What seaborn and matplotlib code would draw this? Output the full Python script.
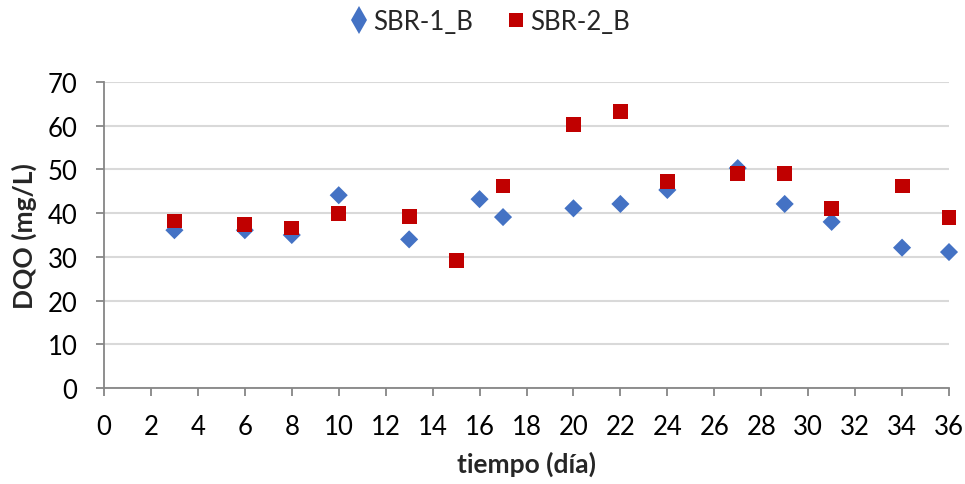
import matplotlib
matplotlib.use("Agg")
import matplotlib.pyplot as plt
from matplotlib.lines import Line2D
import seaborn as sns
import pandas as pd

dias_1 = [3, 6, 8, 10, 13, 16, 17, 20, 22, 24, 27, 29, 31, 34, 36]
sbr1 = [36.1, 36.1, 35.0, 44.1, 34.0, 43.2, 39.1, 41.1, 42.1, 45.3, 50.3, 42.1, 38.0, 32.1, 31.1]
dias_2 = [3, 6, 8, 10, 13, 15, 17, 20, 22, 24, 27, 29, 31, 34, 36]
sbr2 = [38.2, 37.5, 36.6, 39.9, 39.2, 29.1, 46.2, 60.2, 63.2, 47.2, 49.1, 49.1, 41.1, 46.2, 39.1]
series = ["SBR-1_B", "SBR-2_B"]
xticks = list(range(0, 37, 2))
yticks = list(range(0, 71, 10))
colors = ["#4472C4", "#C00000"]

sns.set_theme(style="white")
plt.rcParams["font.family"] = ["Lato", "DejaVu Sans"]

df1 = pd.DataFrame({"tiempo": dias_1, "DQO": sbr1, "serie": series[0]})
df2 = pd.DataFrame({"tiempo": dias_2, "DQO": sbr2, "serie": series[1]})

fig = plt.figure(figsize=(9.65, 4.85), dpi=100)
ax = fig.add_axes([104 / 965, 1 - 389 / 485, (949 - 104) / 965, (389 - 83) / 485])

sns.scatterplot(data=df1, x="tiempo", y="DQO", marker="D", s=85, color=colors[0],
                edgecolor="none", ax=ax, clip_on=False, zorder=3, legend=False)
sns.scatterplot(data=df2, x="tiempo", y="DQO", marker="s", s=115, color=colors[1],
                edgecolor="none", ax=ax, clip_on=False, zorder=4, legend=False)

ax.set_xlim(0, 36)
ax.set_ylim(0, 70)
ax.set_xticks(xticks)
ax.set_yticks(yticks)
ax.grid(axis="y", color="#D9D9D9", linewidth=1.5)
ax.set_axisbelow(True)
for s in ["top", "right"]:
    ax.spines[s].set_visible(False)
for s in ["left", "bottom"]:
    ax.spines[s].set_color("#868686")
    ax.spines[s].set_linewidth(1.3)
ax.tick_params(axis="both", which="major", direction="out", length=6, width=1.3,
               color="#868686", labelsize=18.5, labelcolor="black",
               bottom=True, left=True)
ax.tick_params(axis="y", pad=13)
ax.tick_params(axis="x", pad=13)
ax.set_xlabel("tiempo (día)", fontsize=19, fontweight="bold", labelpad=8)
ax.set_ylabel("DQO (mg/L)", fontsize=19, fontweight="bold", labelpad=8)

handles = [
    Line2D([], [], linestyle="none", marker="d", markersize=14, color=colors[0], markeredgewidth=0),
    Line2D([], [], linestyle="none", marker="s", markersize=10, color=colors[1], markeredgewidth=0),
]
ax.legend(handles, series, loc="center", bbox_to_anchor=(488 / 965, 1 - 22 / 485),
          bbox_transform=fig.transFigure, ncol=2, frameon=False, fontsize=18.5,
          handletextpad=0.05, columnspacing=1.2, handlelength=1.0)

fig.savefig("out.png", dpi=100)
